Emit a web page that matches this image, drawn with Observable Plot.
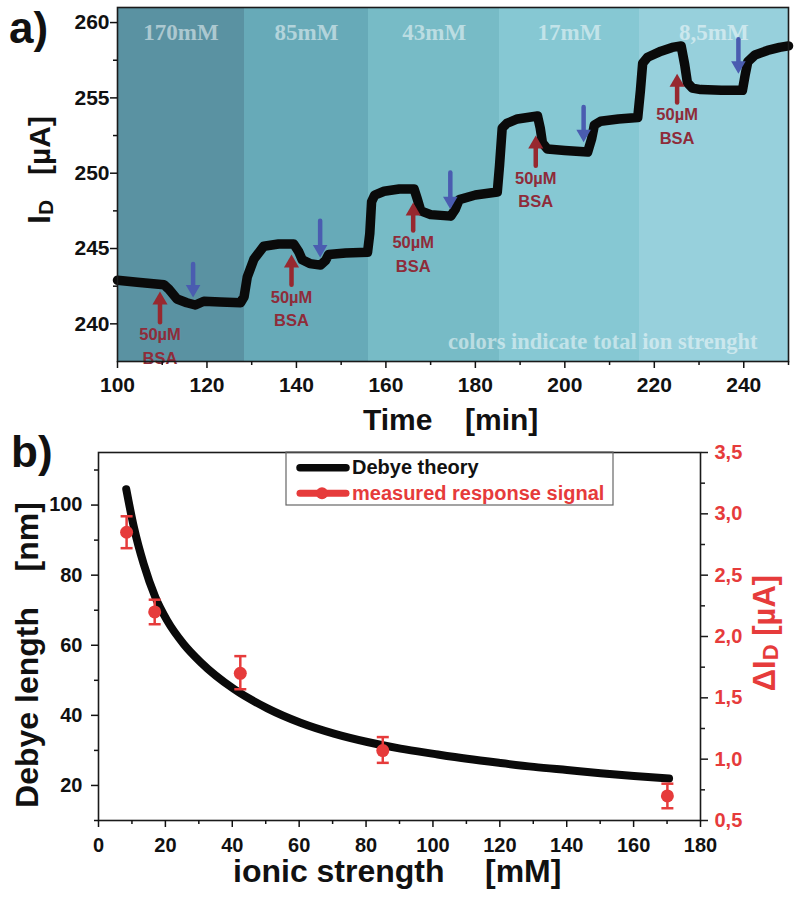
<!DOCTYPE html>
<html><head><meta charset="utf-8">
<script src="https://cdn.jsdelivr.net/npm/d3@7"></script>
<script src="https://cdn.jsdelivr.net/npm/@observablehq/plot@0.6"></script>
<style>
body{margin:0;background:#fff;}
#wrap{position:relative;width:800px;height:898px;overflow:hidden;background:#fff;}
#wrap svg{position:absolute;left:0;}
</style></head><body><div id="wrap"></div>
<script>
// ---------- Panel a data ----------
const timeMin = [100,105,110.4,111.5,113.3,115.5,117.4,119.3,123,127.5,128.3,129.0,130.5,132.7,136,139.4,140.5,141.3,143,145.4,146.5,147.2,151,155.9,156.4,156.8,157.5,159.6,163,166.3,167,167.8,170,174.5,175.5,176.4,180,184.9,185.4,186.0,187,189.4,193.9,194.5,195.0,196.1,200,205.1,206.0,206.6,208,212,216.3,216.9,217.4,218.5,221.5,224,226.0,226.8,227.4,228.5,230.4,235,239.7,240.3,240.9,242.5,245.3,248,250];
const currentUA = [242.9,242.75,242.6,242.3,241.65,241.4,241.25,241.5,241.45,241.4,241.8,243.1,244.3,245.15,245.3,245.3,244.8,244.25,244.0,243.9,244.2,244.6,244.7,244.75,246,248.1,248.55,248.8,248.95,248.95,248.3,247.5,247.25,247.15,247.6,248.25,248.55,248.75,250.5,253.0,253.3,253.6,253.8,253.0,252.0,251.6,251.5,251.4,252.3,253.2,253.45,253.6,253.7,255.5,257.3,257.7,258.1,258.35,258.45,257.2,256.0,255.65,255.55,255.5,255.5,256.5,257.4,257.85,258.15,258.35,258.45];

const bandLabel = ["170mM","85mM","43mM","17mM","8,5mM"];
const bandStart = [100,128.4,156.1,185.5,216.6];
const bandEnd   = [128.4,156.1,185.5,216.6,250];

const bsaX    = [109.5,138.9,166.1,193.5,225.1];
const bsaTip  = [242.15,244.6,248.06,252.5,256.6];
const bsaTail = [240.1,242.6,246.2,250.5,254.7];
const bsaText = "50µM\nBSA";

const rinseX   = [116.9,145.3,174.4,204.2,238.8];
const rinseTop = [243.97,246.85,250.05,254.4,258.9];
const rinseTip = [241.75,244.4,247.6,252.05,256.6];

const captionA = "colors indicate total ion strenght";

const xTicksA = [100,120,140,160,180,200,220,240];
const xMinorA = [110,130,150,170,190,210,230,250];
const yTicksA = [240,245,250,255,260];
const yMinorA = [242.5,247.5,252.5,257.5];

// ---------- Panel b data ----------
const ionicTheory = [8.3,10.6,13.5,17.0,20.5,25.5,30.5,40.5,50.5,60.4,70.4,80.4,90.3,100.3,110.2,120.2,130.2,140.1,150.1,160.1,170.6];
const debyeNm     = [104.5,93.6,83.2,73.7,67.1,60.3,55.2,47.5,42.0,37.9,34.8,32.4,30.5,29.0,27.6,26.4,25.3,24.4,23.5,22.7,22.0];

const ionicMeas = [8.4,16.8,42.4,85.0,170.1];
const deltaID   = [2.85,2.20,1.70,1.07,0.70];
const deltaLo   = [2.72,2.10,1.57,0.97,0.60];
const deltaHi   = [2.98,2.30,1.84,1.18,0.80];

const xTicksB = [0,20,40,60,80,100,120,140,160,180];
const xMinorB = [10,30,50,70,90,110,130,150,170];
const yTicksB = [20,40,60,80,100];
const yMinorB = [10,30,50,70,90,110];
const rTicksB = [0.5,1.0,1.5,2.0,2.5,3.0,3.5];
const rMinorB = [0.75,1.25,1.75,2.25,2.75,3.25];

// ---------- styles ----------
const FONT = "'Liberation Sans', Arial, sans-serif";
const SERIF = "'Liberation Serif', 'Times New Roman', serif";
const bandColors = ["#5a92a2","#67aab8","#77bbc6","#86c8d3","#97d0dc"];
const RED = "#e63b3b";
const ARROW_RED = "#97282f";
const LABEL_RED = "#8e2c3a";
const BLUE = "#4a5cb0";

const wrap = document.getElementById("wrap");

// ---------- Panel a ----------
const trace = timeMin.map((t,i)=>({t, v: currentUA[i]}));
const bands = bandLabel.map((l,i)=>({label:l, x1:bandStart[i], x2:bandEnd[i]}));
const ups = bsaX.map((x,i)=>({x, tip:bsaTip[i], tail:bsaTail[i]}));
const downs = rinseX.map((x,i)=>({x, top:rinseTop[i], tip:rinseTip[i]}));

const plotA = Plot.plot({
  width: 800, height: 440,
  marginLeft: 117, marginRight: 12, marginTop: 7, marginBottom: 79,
  style: {fontFamily: FONT, fontSize: "21px", fontWeight: "bold", background: "transparent", color: "#111", overflow: "visible"},
  x: {domain: [100, 250]},
  y: {domain: [237.5, 261]},
  color: {domain: bandLabel, range: bandColors},
  marks: [
    Plot.rect(bands, {x1: "x1", x2: "x2", fill: "label", shapeRendering: "crispEdges"}),
    Plot.text(bands, {x: d => (d.x1 + d.x2) / 2, text: "label", frameAnchor: "top", dy: 16,
      fontFamily: SERIF, fontSize: 23, fontWeight: "bold", fill: "#ffffff", fillOpacity: 0.5}),
    Plot.text([captionA], {text: d => d, frameAnchor: "bottom-right", textAnchor: "end", dx: -31, dy: -13,
      fontFamily: SERIF, fontSize: 22.5, fontWeight: "bold", fill: "#ffffff", fillOpacity: 0.5}),
    Plot.line(trace, {x: "t", y: "v", stroke: "#0a0a0a", strokeWidth: 9.5, strokeLinejoin: "round", strokeLinecap: "round"}),
    // BSA arrows (up)
    Plot.arrow(ups, {x1: "x", x2: "x", y1: "tail", y2: "tip", stroke: ARROW_RED, strokeWidth: 4.5, headLength: 0, insetEnd: 10}),
    Plot.dot(ups, {x: "x", y: "tip", symbol: "triangle", r: 5.6, dy: 8.7, fill: ARROW_RED, stroke: "none"}),
    Plot.text(ups, {x: "x", y: "tail", text: () => bsaText, lineAnchor: "top", dy: 1, lineHeight: 1.44,
      fontSize: 16.5, fontWeight: "bold", fill: LABEL_RED}),
    // rinse arrows (down)
    Plot.arrow(downs, {x1: "x", x2: "x", y1: "top", y2: "tip", stroke: BLUE, strokeWidth: 4.5, headLength: 0, insetEnd: 10}),
    Plot.dot(downs, {x: "x", y: "tip", symbol: "triangle", rotate: 180, r: 5.4, dy: -8.4, fill: BLUE, stroke: "none"}),
    Plot.frame({stroke: "#1a1a1a", strokeWidth: 1.6}),
    Plot.axisX({ticks: xTicksA, tickSize: 7, tickPadding: 9, label: null, strokeWidth: 1.5}),
    Plot.axisX({ticks: xMinorA, tickSize: 4, tickFormat: () => "", label: null, strokeWidth: 1.5}),
    Plot.axisY({ticks: yTicksA, tickSize: 7, tickPadding: 1, label: null, strokeWidth: 1.5}),
    Plot.axisY({ticks: yMinorA, tickSize: 4, tickFormat: () => "", label: null, strokeWidth: 1.5})
  ]
});
plotA.style.top = "0px";
wrap.appendChild(plotA);

function addText(svg, {x, y, text, size, anchor = "start", rotate = 0, fill = "#111", family = FONT}) {
  return d3.select(svg).append("text")
    .attr("transform", `translate(${x},${y}) rotate(${rotate})`)
    .attr("text-anchor", anchor)
    .attr("font-family", family).attr("font-weight", "bold")
    .attr("font-size", size).attr("fill", fill)
    .style("white-space", "pre")
    .text(text);
}
addText(plotA, {x: 9, y: 43, text: "a)", size: 44});
addText(plotA, {x: 363, y: 430, text: "Time", size: 30});
addText(plotA, {x: 465, y: 430, text: "[min]", size: 30});
{
  const t = d3.select(plotA).append("text")
    .attr("transform", "translate(50,170) rotate(-90)")
    .attr("text-anchor", "middle").attr("font-family", FONT).attr("font-weight", "bold")
    .attr("fill", "#111").style("white-space", "pre");
  t.append("tspan").attr("font-size", 32).text("I");
  t.append("tspan").attr("font-size", 21).attr("dy", 3).text("D");
  t.append("tspan").attr("font-size", 30).attr("dy", -3).text("   [µA]");
}

// ---------- Panel b ----------
const theory = ionicTheory.map((x,i)=>({x, y: debyeNm[i]}));
const meas = ionicMeas.map((x,i)=>({x, y: deltaID[i], lo: deltaLo[i], hi: deltaHi[i]}));
const capSymbol = {draw(ctx, size){ const w = Math.sqrt(size / Math.PI); ctx.moveTo(-w, 0); ctx.lineTo(w, 0); }};

const dimsB = {width: 800, height: 458, marginLeft: 98, marginRight: 100, marginTop: 12, marginBottom: 78};
const styleB = {fontFamily: FONT, fontSize: "20px", fontWeight: "bold", background: "transparent", color: "#111", overflow: "visible"};

const plotB1 = Plot.plot({
  ...dimsB, style: styleB,
  x: {domain: [0, 180]},
  y: {domain: [10, 115]},
  marks: [
    Plot.frame({stroke: "#1a1a1a", strokeWidth: 1.6}),
    Plot.axisX({ticks: xTicksB, tickSize: 7, tickPadding: 10, label: null, strokeWidth: 1.5}),
    Plot.axisX({ticks: xMinorB, tickSize: 4, tickFormat: () => "", label: null, strokeWidth: 1.5}),
    Plot.axisY({ticks: yTicksB, tickSize: 7, tickPadding: 9, label: null, strokeWidth: 1.5}),
    Plot.axisY({ticks: yMinorB, tickSize: 4, tickFormat: () => "", label: null, strokeWidth: 1.5}),
    Plot.line(theory, {x: "x", y: "y", curve: "monotone-x", stroke: "#0a0a0a", strokeWidth: 8, strokeLinecap: "round"})
  ]
});
plotB1.style.top = "440px";
wrap.appendChild(plotB1);

const plotB2 = Plot.plot({
  ...dimsB, style: styleB,
  x: {domain: [0, 180], axis: null},
  y: {domain: [0.5, 3.5]},
  marks: [
    Plot.axisY({anchor: "right", ticks: rTicksB, tickSize: 7, tickPadding: 7, label: null, fill: RED, stroke: "#1a1a1a", strokeWidth: 1.5,
      tickFormat: d => d.toFixed(1).replace(".", ",")}),
    Plot.axisY({anchor: "right", ticks: rMinorB, tickSize: 4, tickFormat: () => "", label: null, stroke: "#1a1a1a", strokeWidth: 1.5}),
    Plot.ruleX(meas, {x: "x", y1: "lo", y2: "hi", stroke: RED, strokeWidth: 2.5}),
    Plot.dot(meas, {x: "x", y: "lo", symbol: capSymbol, r: 6, stroke: RED, strokeWidth: 2.5, fill: "none"}),
    Plot.dot(meas, {x: "x", y: "hi", symbol: capSymbol, r: 6, stroke: RED, strokeWidth: 2.5, fill: "none"}),
    Plot.dot(meas, {x: "x", y: "y", r: 6.5, fill: RED, stroke: "none"})
  ]
});
plotB2.style.top = "440px";
wrap.appendChild(plotB2);

addText(plotB2, {x: 11, y: 27, text: "b)", size: 44});
addText(plotB2, {x: 38, y: 215, text: "Debye length    [nm]", size: 32, anchor: "middle", rotate: -90});
addText(plotB2, {x: 233, y: 442, text: "ionic strength", size: 32});
addText(plotB2, {x: 485, y: 442, text: "[mM]", size: 32});
{
  const t = d3.select(plotB2).append("text")
    .attr("transform", "translate(775,193) rotate(-90)")
    .attr("text-anchor", "middle").attr("font-family", FONT).attr("font-weight", "bold")
    .attr("fill", RED).style("white-space", "pre");
  t.append("tspan").attr("font-size", 31).text("ΔI");
  t.append("tspan").attr("font-size", 22).attr("dy", 3).text("D");
  t.append("tspan").attr("font-size", 31).attr("dy", -3).text(" [µA]");
}
// legend
{
  const g = d3.select(plotB2).append("g");
  g.append("rect").attr("x", 286).attr("y", 12).attr("width", 327).attr("height", 53)
    .attr("fill", "none").attr("stroke", "#666").attr("stroke-width", 1.2);
  g.append("line").attr("x1", 300).attr("x2", 346).attr("y1", 27.7).attr("y2", 27.7)
    .attr("stroke", "#0a0a0a").attr("stroke-width", 7.5).attr("stroke-linecap", "round");
  g.append("line").attr("x1", 300).attr("x2", 346).attr("y1", 53.3).attr("y2", 53.3)
    .attr("stroke", RED).attr("stroke-width", 7).attr("stroke-linecap", "round");
  g.append("circle").attr("cx", 322).attr("cy", 53.3).attr("r", 6).attr("fill", RED);
  addText(plotB2, {x: 352, y: 34, text: "Debye theory", size: 20});
  addText(plotB2, {x: 352, y: 60, text: "measured response signal", size: 20, fill: RED});
}
</script></body></html>
